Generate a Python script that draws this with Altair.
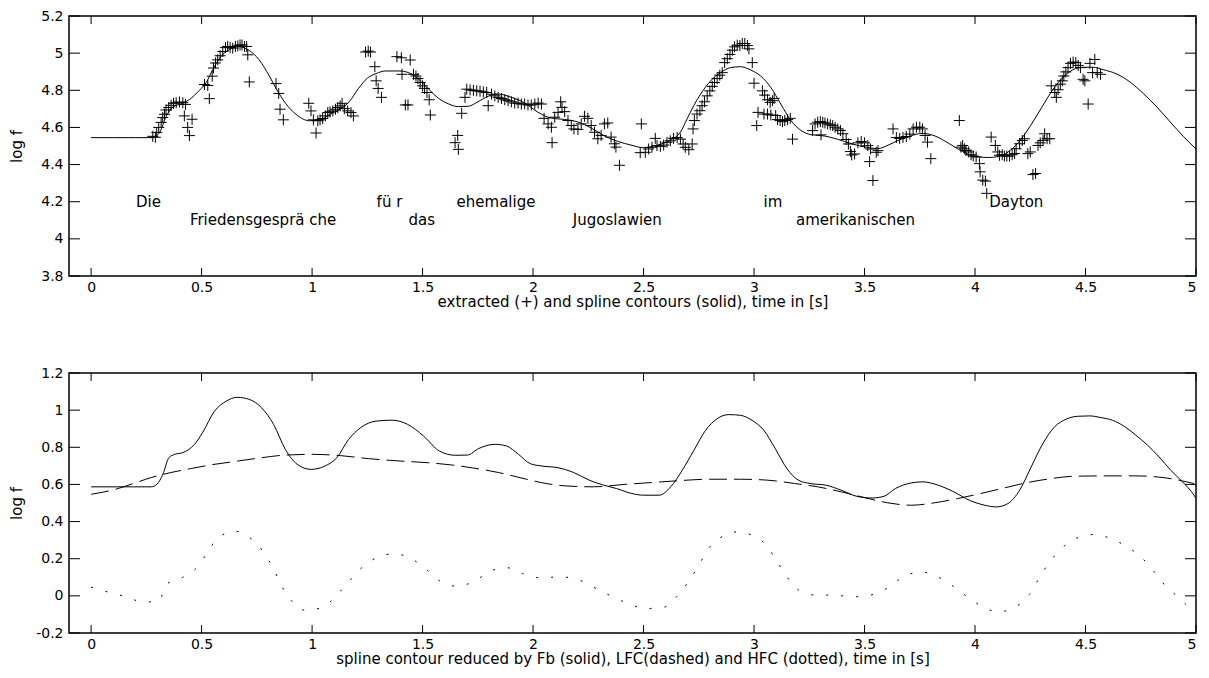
import altair as alt
import pandas as pd

# ---------------- data ----------------
x_ticks = [0, 0.5, 1, 1.5, 2, 2.5, 3, 3.5, 4, 4.5, 5]
top_y_ticks = [3.8, 4.0, 4.2, 4.4, 4.6, 4.8, 5.0, 5.2]
bot_y_ticks = [-0.2, 0.0, 0.2, 0.4, 0.6, 0.8, 1.0, 1.2]

spline_t = [0.0, 0.1, 0.2, 0.279, 0.31, 0.34, 0.37, 0.415, 0.445, 0.49, 0.52, 0.55, 0.58, 0.626, 0.67,
            0.716, 0.76, 0.807, 0.837, 0.88, 0.928, 0.988, 1.033, 1.08, 1.124, 1.169, 1.21, 1.25, 1.29,
            1.332, 1.392, 1.437, 1.482, 1.527, 1.572, 1.617, 1.662, 1.707, 1.752, 1.797, 1.842, 1.902,
            1.962, 2.022, 2.083, 2.143, 2.203, 2.263, 2.323, 2.383, 2.443, 2.5, 2.56, 2.62, 2.667, 2.697,
            2.727, 2.758, 2.803, 2.848, 2.894, 2.939, 2.985, 3.03, 3.076, 3.121, 3.167, 3.212, 3.258,
            3.318, 3.379, 3.439, 3.5, 3.56, 3.606, 3.652, 3.712, 3.762, 3.823, 3.883, 3.944, 4.005,
            4.065, 4.126, 4.171, 4.217, 4.262, 4.308, 4.353, 4.398, 4.444, 4.489, 4.535, 4.58, 4.641,
            4.702, 4.762, 4.823, 4.883, 4.944, 5.0]
spline_v = [4.545, 4.545, 4.545, 4.545, 4.573, 4.66, 4.71, 4.73, 4.75, 4.80, 4.84, 4.91, 4.97, 5.02, 5.035,
            5.014, 4.965, 4.876, 4.81, 4.73, 4.67, 4.636, 4.64, 4.67, 4.695, 4.74, 4.81, 4.865, 4.89,
            4.904, 4.904, 4.895, 4.86, 4.807, 4.757, 4.727, 4.712, 4.714, 4.739, 4.768, 4.78, 4.762,
            4.732, 4.682, 4.65, 4.643, 4.629, 4.597, 4.554, 4.525, 4.505, 4.491, 4.504, 4.53, 4.575, 4.646,
            4.717, 4.779, 4.85, 4.895, 4.922, 4.927, 4.909, 4.877, 4.815, 4.726, 4.637, 4.584, 4.561,
            4.554, 4.536, 4.513, 4.495, 4.486, 4.504, 4.53, 4.556, 4.568, 4.552, 4.513, 4.47, 4.443,
            4.438, 4.452, 4.488, 4.55, 4.63, 4.72, 4.805, 4.87, 4.911, 4.924, 4.924, 4.911, 4.888,
            4.844, 4.782, 4.71, 4.63, 4.55, 4.484]

pts_t = [0.279, 0.291, 0.297, 0.306, 0.317, 0.324, 0.332, 0.339, 0.351, 0.362, 0.373, 0.385, 0.400, 0.415,
         0.427, 0.422, 0.457, 0.437, 0.445, 0.513, 0.528, 0.535, 0.548, 0.554, 0.563, 0.573, 0.584, 0.596,
         0.608, 0.618, 0.629, 0.641, 0.653, 0.664, 0.674, 0.683, 0.694, 0.704, 0.709, 0.716, 0.837, 0.849,
         0.855, 0.870, 0.985, 0.995, 1.006, 1.018, 1.026, 1.036, 1.048, 1.060, 1.071, 1.081, 1.094, 1.106,
         1.116, 1.127, 1.136, 1.146, 1.161, 1.176, 1.187,
         1.242, 1.254, 1.264, 1.284, 1.290, 1.299, 1.314, 1.384, 1.404, 1.444, 1.407, 1.422,
         1.434, 1.459, 1.470, 1.479, 1.489, 1.500, 1.509, 1.520, 1.530, 1.535, 1.647, 1.659, 1.662, 1.677,
         1.692, 1.700, 1.715, 1.730, 1.745, 1.760, 1.775, 1.790, 1.797, 1.812, 1.827, 1.842, 1.857, 1.872,
         1.887, 1.902, 1.917, 1.932, 1.947, 1.962, 1.977, 1.992, 2.008, 2.023, 2.038, 2.050, 2.068, 2.083,
         2.086, 2.098, 2.113, 2.125, 2.131, 2.143, 2.158, 2.173, 2.185, 2.203, 2.218, 2.233, 2.248, 2.263,
         2.278, 2.293, 2.308, 2.323, 2.338, 2.353, 2.368, 2.375, 2.391, 2.490, 2.485,
         2.508, 2.523, 2.538, 2.553, 2.561, 2.576, 2.591, 2.606, 2.621, 2.636, 2.652, 2.667, 2.679, 2.689,
         2.705, 2.720, 2.724, 2.730, 2.742, 2.755, 2.765, 2.776, 2.788, 2.800, 2.811, 2.821, 2.833, 2.845,
         2.856, 2.867, 2.879, 2.891, 2.902, 2.912, 2.924, 2.936, 2.947, 2.958, 2.970, 2.977, 2.992, 3.000,
         3.012, 3.018, 3.038, 3.048, 3.061, 3.073, 3.083, 3.091, 3.045, 3.061, 3.076, 3.098, 3.106, 3.118,
         3.129, 3.139, 3.152, 3.164, 3.174,
         3.265, 3.276, 3.288, 3.300, 3.311, 3.321, 3.333, 3.345, 3.356, 3.367, 3.379, 3.391, 3.402, 3.303,
         3.417, 3.427, 3.436, 3.442, 3.455, 3.470, 3.485, 3.500, 3.515, 3.527, 3.523, 3.538, 3.553, 3.561,
         3.629, 3.644, 3.659, 3.674, 3.689, 3.705, 3.720, 3.735, 3.750,
         3.762, 3.774, 3.785, 3.800, 3.929, 3.936, 3.944, 3.952, 3.959, 3.971, 3.982, 3.992, 4.005, 4.020,
         4.023, 4.035, 4.047, 4.053, 4.073, 4.092, 4.103, 4.111, 4.123, 4.133, 4.144, 4.156, 4.168, 4.179,
         4.186, 4.202, 4.214, 4.224, 4.239, 4.250, 4.262, 4.274, 4.285, 4.295, 4.308, 4.315, 4.326, 4.338,
         4.345, 4.361, 4.368, 4.376, 4.386, 4.395, 4.402, 4.411, 4.421, 4.432, 4.444, 4.456, 4.467, 4.477,
         4.489, 4.497, 4.512, 4.520, 4.532, 4.542, 4.553, 4.568]
pts_v = [4.552, 4.547, 4.573, 4.600, 4.627, 4.653, 4.671, 4.694, 4.707, 4.719, 4.730, 4.733, 4.737, 4.733,
         4.724, 4.662, 4.644, 4.600, 4.556, 4.831, 4.826, 4.755, 4.876, 4.920, 4.947, 4.964, 4.986, 5.009,
         5.030, 5.036, 5.030, 5.027, 5.036, 5.039, 5.044, 5.044, 5.036, 5.036, 4.991, 4.845, 4.836, 4.783,
         4.698, 4.641, 4.730, 4.689, 4.641, 4.570, 4.636, 4.641, 4.648, 4.662, 4.680, 4.684, 4.689, 4.698,
         4.707, 4.716, 4.730, 4.701, 4.689, 4.680, 4.662,
         5.006, 5.011, 5.006, 4.927, 4.851, 4.810, 4.762, 4.981, 4.975, 4.963, 4.886, 4.721,
         4.721, 4.886, 4.877, 4.863, 4.842, 4.824, 4.810, 4.788, 4.749, 4.667, 4.518, 4.557, 4.482, 4.676,
         4.762, 4.806, 4.802, 4.800, 4.797, 4.795, 4.791, 4.788, 4.717, 4.779, 4.770, 4.762, 4.756, 4.749,
         4.744, 4.738, 4.731, 4.731, 4.726, 4.726, 4.721, 4.721, 4.726, 4.731, 4.726, 4.649, 4.619, 4.601,
         4.518, 4.655, 4.681, 4.738, 4.708, 4.685, 4.637, 4.610, 4.592, 4.589, 4.619, 4.660, 4.649, 4.610,
         4.574, 4.539, 4.557, 4.619, 4.624, 4.548, 4.512, 4.494, 4.396, 4.619, 4.464,
         4.466, 4.484, 4.493, 4.541, 4.502, 4.498, 4.505, 4.520, 4.528, 4.541, 4.546, 4.537, 4.511, 4.493,
         4.480, 4.511, 4.592, 4.637, 4.672, 4.690, 4.717, 4.738, 4.770, 4.797, 4.821, 4.842, 4.863, 4.881,
         4.895, 4.949, 4.970, 4.993, 5.016, 5.034, 5.043, 5.041, 5.052, 5.052, 5.041, 5.023, 4.949, 4.838,
         4.610, 4.681, 4.797, 4.774, 4.749, 4.735, 4.744, 4.756, 4.672, 4.672, 4.667, 4.664, 4.642, 4.637,
         4.631, 4.637, 4.642, 4.649, 4.537,
         4.583, 4.619, 4.628, 4.631, 4.628, 4.624, 4.619, 4.614, 4.610, 4.601, 4.592, 4.583, 4.566, 4.560,
         4.535, 4.511, 4.470, 4.452, 4.457, 4.517, 4.524, 4.517, 4.502, 4.484, 4.416, 4.314, 4.466, 4.475,
         4.592, 4.546, 4.541, 4.546, 4.551, 4.564, 4.592, 4.601, 4.601,
         4.592, 4.557, 4.521, 4.432, 4.637, 4.494, 4.503, 4.485, 4.476, 4.468, 4.453, 4.446, 4.441, 4.405,
         4.361, 4.316, 4.311, 4.245, 4.548, 4.503, 4.468, 4.450, 4.453, 4.446, 4.446, 4.446, 4.453, 4.459,
         4.485, 4.512, 4.530, 4.539, 4.459, 4.468, 4.346, 4.352, 4.503, 4.517, 4.530, 4.566, 4.539, 4.539,
         4.824, 4.788, 4.762, 4.803, 4.833, 4.851, 4.877, 4.899, 4.922, 4.945, 4.952, 4.949, 4.934, 4.922,
         4.859, 4.851, 4.726, 4.945, 4.895, 4.966, 4.895, 4.886]

words = ["Die", "Friedensgesprä che", "fü r", "das", "ehemalige", "Jugoslawien", "im",
         "amerikanischen", "Dayton"]
word_t = [0.203, 0.447, 1.292, 1.436, 1.654, 2.18, 3.043, 3.19, 4.064]
word_v = [4.2, 4.1, 4.2, 4.1, 4.2, 4.1, 4.2, 4.1, 4.2]

solid_t = [0.0, 0.272, 0.298, 0.325, 0.352, 0.379, 0.415, 0.468, 0.504, 0.558, 0.611, 0.661, 0.718, 0.772,
           0.826, 0.879, 0.933, 0.996, 1.058, 1.112, 1.165, 1.219, 1.29, 1.362, 1.433, 1.505, 1.576, 1.648,
           1.702, 1.755, 1.827, 1.88, 1.934, 1.987, 2.041, 2.113, 2.184, 2.256, 2.32, 2.377, 2.447, 2.5,
           2.57, 2.623, 2.675, 2.728, 2.781, 2.833, 2.886, 2.939, 2.991, 3.044, 3.096, 3.149, 3.202, 3.254,
           3.325, 3.395, 3.465, 3.535, 3.588, 3.64, 3.711, 3.763, 3.833, 3.904, 3.974, 4.044, 4.096, 4.149,
           4.202, 4.254, 4.307, 4.36, 4.412, 4.465, 4.518, 4.57, 4.623, 4.675, 4.728, 4.781, 4.833, 4.886,
           4.939, 4.991, 5.0]
solid_v = [0.587, 0.587, 0.601, 0.655, 0.744, 0.762, 0.771, 0.816, 0.878, 0.994, 1.048, 1.069, 1.057, 1.012,
           0.923, 0.789, 0.708, 0.681, 0.699, 0.744, 0.842, 0.905, 0.941, 0.946, 0.923, 0.86, 0.78, 0.757,
           0.758, 0.794, 0.816, 0.807, 0.762, 0.712, 0.699, 0.690, 0.664, 0.622, 0.596, 0.578, 0.551, 0.542,
           0.542, 0.587, 0.676, 0.784, 0.892, 0.954, 0.976, 0.972, 0.945, 0.892, 0.793, 0.685, 0.622, 0.605,
           0.596, 0.569, 0.536, 0.527, 0.536, 0.578, 0.608, 0.614, 0.596, 0.560, 0.515, 0.488, 0.479, 0.497,
           0.569, 0.694, 0.820, 0.910, 0.951, 0.967, 0.969, 0.960, 0.945, 0.913, 0.865, 0.811, 0.748, 0.676,
           0.614, 0.542, 0.525]

lfc_t = [0.0, 0.111, 0.182, 0.272, 0.361, 0.45, 0.54, 0.647, 0.754, 0.879, 1.004, 1.13, 1.255, 1.398, 1.523,
         1.63, 1.737, 1.844, 1.97, 2.059, 2.148, 2.273, 2.412, 2.535, 2.658, 2.798, 2.939, 3.061, 3.184,
         3.289, 3.395, 3.5, 3.605, 3.711, 3.816, 3.921, 4.026, 4.132, 4.237, 4.342, 4.447, 4.588, 4.728,
         4.851, 4.991]
lfc_v = [0.547, 0.574, 0.601, 0.637, 0.664, 0.685, 0.705, 0.723, 0.741, 0.758, 0.762, 0.755, 0.739, 0.726,
         0.717, 0.705, 0.687, 0.664, 0.628, 0.605, 0.592, 0.587, 0.600, 0.610, 0.620, 0.628, 0.628, 0.623,
         0.605, 0.587, 0.560, 0.529, 0.501, 0.488, 0.501, 0.524, 0.551, 0.581, 0.610, 0.631, 0.644, 0.646,
         0.646, 0.637, 0.605]

hfc_t = [0.0, 0.075, 0.164, 0.236, 0.307, 0.343, 0.415, 0.486, 0.531, 0.576, 0.656, 0.727, 0.781, 0.826,
         0.861, 0.906, 0.969, 1.049, 1.112, 1.165, 1.219, 1.29, 1.371, 1.451, 1.514, 1.576, 1.657, 1.728,
         1.809, 1.88, 1.952, 2.032, 2.122, 2.202, 2.273, 2.352, 2.43, 2.509, 2.588, 2.649, 2.702, 2.746,
         2.789, 2.842, 2.918, 2.991, 3.061, 3.105, 3.149, 3.202, 3.281, 3.36, 3.447, 3.526, 3.605, 3.675,
         3.754, 3.825, 3.895, 3.965, 4.035, 4.105, 4.184, 4.246, 4.289, 4.333, 4.386, 4.456, 4.535, 4.614,
         4.684, 4.754, 4.807, 4.86, 4.921, 4.982]
hfc_v = [0.047, 0.021, -0.007, -0.034, -0.025, 0.064, 0.1, 0.162, 0.243, 0.315, 0.347, 0.305, 0.234, 0.145,
         0.056, -0.025, -0.078, -0.061, 0.004, 0.075, 0.145, 0.204, 0.226, 0.199, 0.145, 0.082, 0.052, 0.075,
         0.134, 0.152, 0.12, 0.097, 0.102, 0.088, 0.047, 0.0, -0.041, -0.068, -0.063, -0.005, 0.075, 0.156,
         0.246, 0.309, 0.344, 0.327, 0.264, 0.183, 0.102, 0.031, 0.004, 0.004, -0.005, 0.004, 0.043, 0.102,
         0.129, 0.106, 0.057, -0.005, -0.059, -0.086, -0.059, 0.007, 0.093, 0.174, 0.249, 0.309, 0.330, 0.309,
         0.267, 0.206, 0.135, 0.057, -0.009, -0.077]

top_xtitle = "extracted (+) and spline contours (solid), time in [s]"
bot_xtitle = "spline contour reduced by Fb (solid), LFC(dashed) and HFC (dotted), time in [s]"
ytitle = "log f"

# ---------------- styling ----------------
FONT = "DejaVu Sans"
W, H = 1127, 260
XDOM = [-0.1, 5]
PLUS = "M-1,0H1M0,-1V1"


def x_axis(title, lpad, tpad):
    return alt.Axis(values=x_ticks, format=".1~f", ticks=False, tickSize=0, domain=False, grid=False,
                    labelFont=FONT, labelFontSize=14, labelColor="black", labelPadding=lpad,
                    title=title, titleFont=FONT, titleFontSize=15, titleFontWeight="normal",
                    titleColor="black", titlePadding=tpad)


def y_axis(values):
    return alt.Axis(values=values, format=".1~f", labelExpr="replace(datum.label, '\u2212', '-')",
                    ticks=False, tickSize=0, domain=False, grid=False,
                    labelFont=FONT, labelFontSize=14, labelColor="black", labelPadding=6,
                    title=ytitle, titleFont=FONT, titleFontSize=15, titleFontWeight="normal",
                    titleColor="black", titleX=-53, titleY=H / 2, titleAlign="center",
                    titleBaseline="middle")


def panel(layers_spec, xtitle, ydom, yticks, lpad, tpad):
    xs = alt.Scale(domain=XDOM, nice=False, zero=False)
    ys = alt.Scale(domain=ydom, nice=False, zero=False)
    X = alt.X("t:Q", scale=xs, axis=x_axis(xtitle, lpad, tpad))
    Y = alt.Y("v:Q", scale=ys, axis=y_axis(yticks))
    layers = [mk.encode(x=X, y=Y, **extra) for mk, extra in layers_spec]
    xt = pd.DataFrame({"t": x_ticks})
    yt = pd.DataFrame({"v": yticks})
    base_x = alt.Chart(xt).mark_rule(color="black", strokeWidth=1)
    base_y = alt.Chart(yt).mark_rule(color="black", strokeWidth=1)
    layers += [
        base_x.encode(x=X, y=alt.value(0), y2=alt.value(8)),
        base_x.encode(x=X, y=alt.value(H - 8), y2=alt.value(H)),
        base_y.encode(y=Y, x=alt.value(0), x2=alt.value(11)),
        base_y.encode(y=Y, x=alt.value(W - 11), x2=alt.value(W)),
    ]
    return alt.layer(*layers).properties(width=W, height=H)


# ---------------- top panel ----------------
spline_df = pd.DataFrame({"t": spline_t, "v": spline_v})
pts_df = pd.DataFrame({"t": pts_t, "v": pts_v})
words_df = pd.DataFrame({"t": word_t, "v": word_v, "w": words})

top = panel([
    (alt.Chart(spline_df).mark_line(color="black", strokeWidth=1, interpolate="monotone"), {}),
    (alt.Chart(pts_df).mark_point(shape=PLUS, size=121, filled=False, color="black",
                                  strokeWidth=1, opacity=1), {}),
    (alt.Chart(words_df).mark_text(align="left", baseline="middle", font=FONT, fontSize=15,
                                   color="black"), {"text": "w:N"}),
], top_xtitle, [3.8, 5.2], top_y_ticks, 4, 0)

# ---------------- bottom panel ----------------
solid_df = pd.DataFrame({"t": solid_t, "v": solid_v})
lfc_df = pd.DataFrame({"t": lfc_t, "v": lfc_v})
hfc_df = pd.DataFrame({"t": hfc_t, "v": hfc_v})

bottom = panel([
    (alt.Chart(solid_df).mark_line(color="black", strokeWidth=1, interpolate="monotone"), {}),
    (alt.Chart(lfc_df).mark_line(color="black", strokeWidth=1, strokeDash=[18, 7],
                                 interpolate="monotone"), {}),
    (alt.Chart(hfc_df).mark_line(color="black", strokeWidth=1, strokeDash=[2, 13],
                                 interpolate="monotone"), {}),
], bot_xtitle, [-0.2, 1.2], bot_y_ticks, 4, 0)

chart = alt.vconcat(top, bottom, spacing=97, bounds="flush").properties(
    padding={"left": 0, "top": 0, "right": 0, "bottom": 0},
    background="white",
).configure_view(stroke="black", strokeWidth=1.5)

chart.save("out.html", embed_options={"renderer": "svg", "actions": False})
